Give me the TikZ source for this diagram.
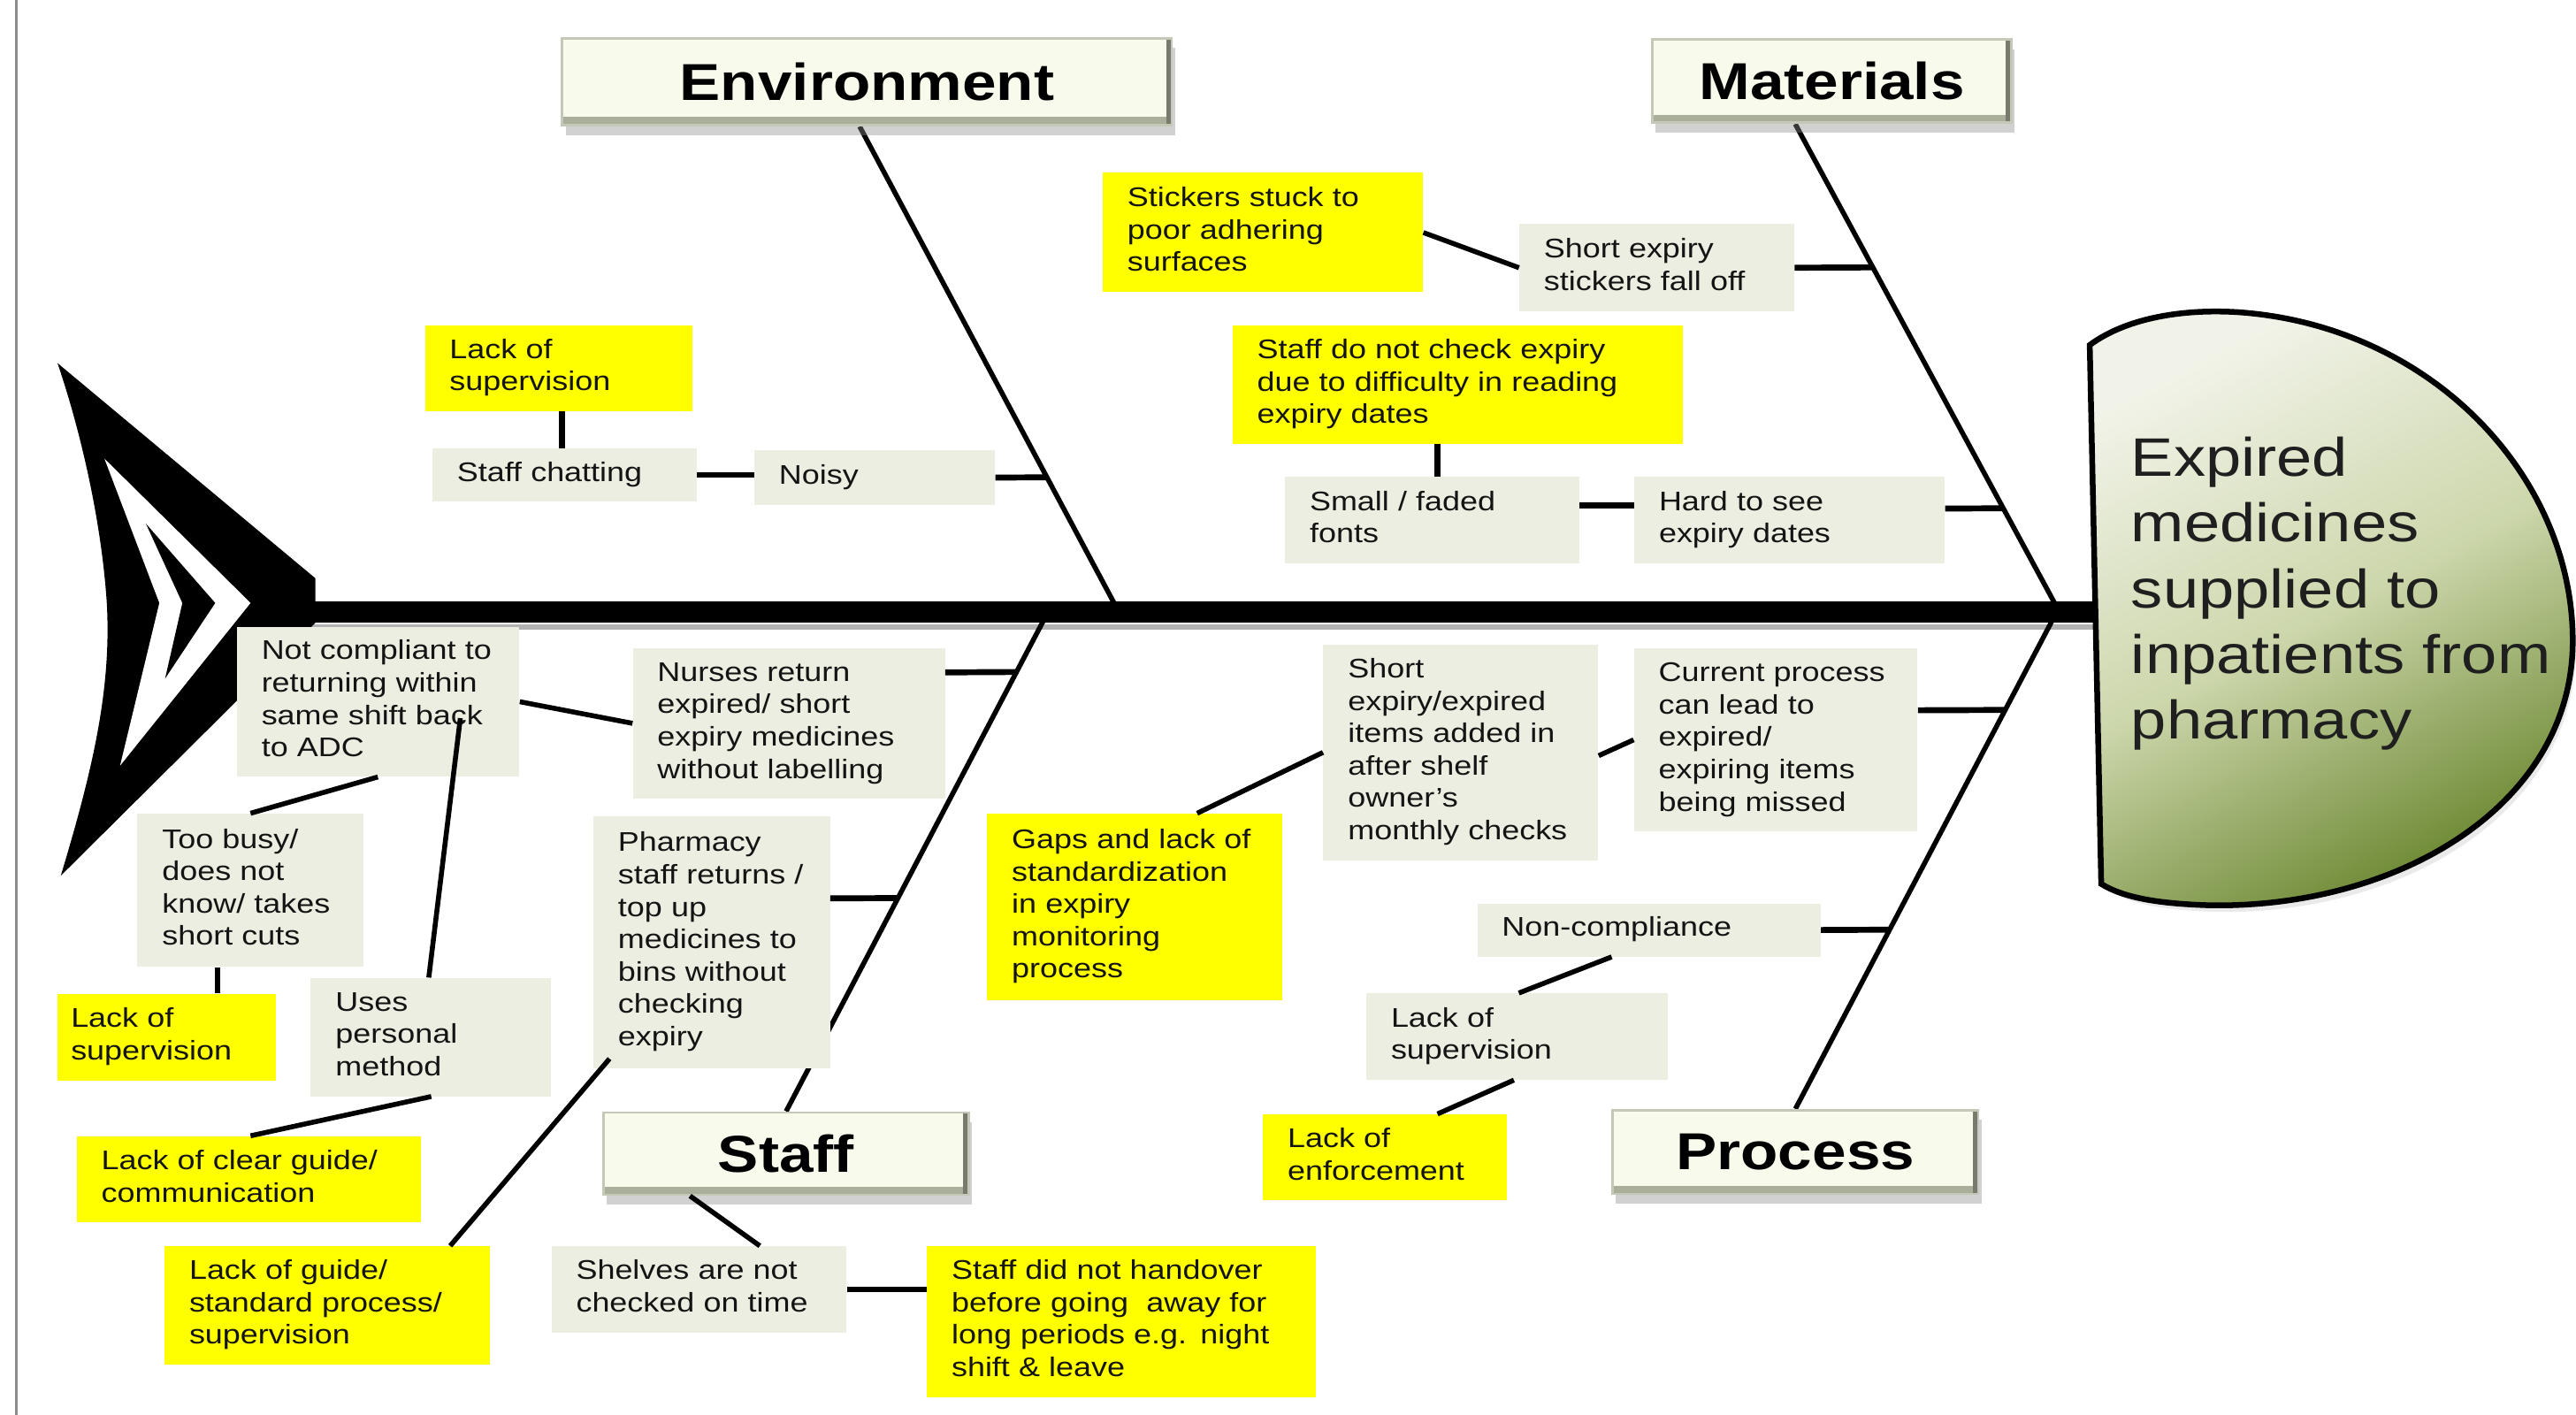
\documentclass[tikz,border=0pt]{standalone}
\usepackage{fontspec}
\setmainfont{Liberation Sans}[FakeStretch=1.18]
\usetikzlibrary{shadows,calc}
\definecolor{ylw}{RGB}{255,255,0}
\definecolor{gbg}{RGB}{235,238,224}
\definecolor{catfill}{RGB}{248,250,236}
\definecolor{catedge}{RGB}{196,200,182}
\definecolor{catbot}{RGB}{170,175,155}
\definecolor{catright}{RGB}{120,122,110}
\definecolor{hlight}{RGB}{241,243,232}
\definecolor{hmid}{RGB}{205,215,172}
\definecolor{hdark}{RGB}{108,136,50}
\definecolor{txt}{RGB}{20,20,20}
\pgfdeclarelayer{bg}
\pgfsetlayers{bg,main}
\newcommand\tl[1]{\begin{tabular}{@{}l@{}}#1\end{tabular}}
\newcommand\bx[7]{\node[#1, minimum width=#5pt, minimum height=#6pt, text width=#5pt-30pt] (#2) at (#3,#4) {\tl{#7}};}
\tikzset{
  basebox/.style={anchor=north west, inner xsep=15pt, inner ysep=0pt, font=\fontsize{16.4}{19.7}\selectfont, text=txt},
  gbox/.style={basebox, fill=gbg},
  ybox/.style={basebox, fill=ylw},
  cat/.style={anchor=north west, inner sep=0pt, fill=catfill, draw=catedge, line width=1.5pt,
    font=\fontsize{31.6}{36}\selectfont\bfseries, text=black,
    drop shadow={shadow xshift=2pt, shadow yshift=-6pt, opacity=.4, fill=black!45},
    path picture={
      \fill[catbot] ([yshift=5pt]path picture bounding box.south west) rectangle (path picture bounding box.south east);
      \fill[catright] ([xshift=-3.5pt]path picture bounding box.south east) rectangle (path picture bounding box.north east);
    }},
  bone/.style={line width=3pt},
  conn/.style={line width=3.6pt},
  dconn/.style={line width=3pt},
}
\begin{document}
\begin{tikzpicture}[x=1pt,y=-1pt]
\useasboundingbox (0,0) rectangle (1568,861);
% ---------------- category boxes
\node[cat, minimum width=371pt, minimum height=53pt] (env) at (341.5,22.5) {Environment};
\node[cat, minimum width=218.6pt, minimum height=50.7pt] (mat) at (1005,23.3) {Materials};
\node[cat, minimum width=222.5pt, minimum height=50pt] (staff) at (366.5,676.4) {Staff};
\node[cat, minimum width=222.6pt, minimum height=51pt] (proc) at (980.8,674.9) {Process};
% ---------------- background layer: page, spine, bones
\begin{pgfonlayer}{bg}
\fill[white] (0,0) rectangle (1568,861);
\draw[black!45, line width=1.5pt] (10,0) coordinate (bl1) -- (10,861) coordinate (bl2);
\coordinate (spa) at (188,372.5);
\coordinate (spb) at (1285,372.5);
\draw[black!30, line width=3pt] ([yshift=-9pt]spa) -- ([yshift=-9pt]spb);
\draw[black, line width=13pt] (spa) -- (spb);
\coordinate (ej) at (679.7,370);
\coordinate (mj) at (1252.2,370);
\coordinate (sj) at (637.1,374);
\coordinate (pj) at (1251.1,374);
\draw[bone] ([xshift=-4.5pt]env.south) -- (ej);
\draw[bone] ([xshift=-22.3pt]mat.south) -- (mj);
\draw[bone] (staff.north) -- (sj);
\draw[bone] (proc.north) -- (pj);
\end{pgfonlayer}
% ---------------- tail
\fill[black] (35,221) -- (192,352) -- (192,379) -- (37,533)
  .. controls (56,470) and (68,420) .. (65,367)
  .. controls (62,320) and (50,265) .. (35,221) -- cycle;
\fill[white] (63.6,279.2) -- (152.5,367) -- (73.1,466) -- (97,367) -- cycle;
\fill[black] (88.8,318.7) -- (131,367) -- (100.5,413) -- (111,367) -- cycle;
% ---------------- head
\fill[black!20, opacity=.4] (1276,214) .. controls (1299,197) and (1334,192) .. (1366,194)
  .. controls (1484,202) and (1568,294) .. (1568,394)
  .. controls (1568,494) and (1464,557) .. (1349,555)
  .. controls (1316,554) and (1296,550) .. (1283,542) -- cycle;
\shadedraw[draw=black, line width=3.5pt, top color=hlight, bottom color=hdark, middle color=hmid, shading angle=28]
  (1272,210) .. controls (1295,193) and (1330,188) .. (1362,190)
  .. controls (1480,198) and (1566,290) .. (1566,390)
  .. controls (1566,490) and (1460,553) .. (1345,551)
  .. controls (1312,550) and (1292,546) .. (1279,538) -- cycle;
\node[anchor=north west, inner sep=0pt, align=left, text=black!88, font=\fontsize{33}{40}\selectfont] (head) at (1297,265.7)
  {Expired\\medicines\\supplied to\\inpatients from\\pharmacy};
% ---------------- Environment
\bx{ybox}{l1}{258.5}{197.7}{163}{52.3}{Lack of\\supervision}
\bx{gbox}{chat}{263}{272.7}{161}{32.3}{Staff chatting}
\bx{gbox}{noisy}{459}{274}{146.5}{33}{Noisy}
% ---------------- Materials
\bx{ybox}{stick}{671}{105}{195}{72.7}{Stickers stuck to\\poor adhering\\surfaces}
\bx{gbox}{short}{924.6}{136}{167.4}{53.5}{Short expiry\\stickers fall off}
\bx{ybox}{sdnc}{750}{197.7}{274}{72.3}{Staff do not check expiry\\due to difficulty in reading\\expiry dates}
\bx{gbox}{small}{782}{290}{179}{52.7}{Small / faded\\fonts}
\bx{gbox}{hard}{994.6}{290}{189}{52.7}{Hard to see\\expiry dates}
% ---------------- Staff
\bx{gbox}{nc}{144}{381.3}{172}{91.2}{Not compliant to\\returning within\\same shift back\\to ADC}
\bx{gbox}{nurses}{385}{394.3}{190}{91.5}{Nurses return\\expired/ short\\expiry medicines\\without labelling}
\bx{gbox}{busy}{83.5}{495}{137.5}{93.4}{Too busy/\\does not\\know/ takes\\short cuts}
\bx{ybox}{ls2}{35}{604.7}{132.5}{52.6}{\hspace*{-7pt}Lack of\\\hspace*{-7pt}supervision}
\bx{gbox}{uses}{189}{595}{146}{72}{Uses\\personal\\method}
\bx{ybox}{lcg}{46.5}{691.3}{209.5}{52.5}{Lack of clear guide/\\communication}
\bx{gbox}{pharm}{361}{496.6}{144}{153.4}{Pharmacy\\staff returns /\\top up\\medicines to\\bins without\\checking\\expiry}
\bx{ybox}{lgd}{100}{758.3}{198}{72}{Lack of guide/\\standard process/\\supervision}
\bx{gbox}{shelves}{335.5}{758.3}{179.5}{52.5}{Shelves are not\\checked on time}
\bx{ybox}{sdn}{564}{758.3}{237}{91.7}{Staff did not handover\\before going \ away for\\long periods e.g. night\\shift \& leave}
% ---------------- Process
\bx{gbox}{sei}{805.3}{392}{167.4}{131.5}{Short\\expiry/expired\\items added in\\after shelf\\owner's\\monthly checks}
\bx{gbox}{cur}{994.4}{394.3}{172.6}{111.6}{Current process\\can lead to\\expired/\\expiring items\\being missed}
\bx{ybox}{gaps}{600.7}{495}{179.8}{113.5}{Gaps and lack of\\standardization\\in expiry\\monitoring\\process}
\bx{gbox}{nonc}{899}{549.7}{209}{32.3}{Non-compliance}
\bx{gbox}{lsp}{831.5}{604.4}{183.5}{52.6}{Lack of\\supervision}
\bx{ybox}{lenf}{768.6}{678}{148.4}{52.5}{Lack of\\enforcement}
% ---------------- bone attachment points
\coordinate (eb1) at (636.9,290.5);
\coordinate (mb1) at (1139.3,162.75);
\coordinate (mb2) at (1219.2,309.35);
\coordinate (sb1) at (618.6,409);
\coordinate (sb2) at (546.0,546.6);
\coordinate (pb1) at (1220.4,432.1);
\coordinate (pb2) at (1149.7,565.85);
% ---------------- connectors: Environment
\draw[conn] ([xshift=83.5pt]l1.south west) -- ([xshift=79pt]chat.north west);
\draw[conn] (chat.east) -- (chat.east -| noisy.west);
\draw[conn] (noisy.east) -- (eb1);
% ---------------- connectors: Materials
\draw[dconn] (stick.east) -- (short.west);
\draw[conn] (short.east) -- (mb1);
\draw[conn] ([xshift=125pt]sdnc.south west) -- ([xshift=93pt]small.north west);
\draw[conn] ([yshift=8.85pt]small.east) -- ([yshift=8.85pt]hard.west);
\draw[conn] ([yshift=7pt]hard.east) -- (mb2);
% ---------------- connectors: Staff
\draw[conn] ([yshift=31pt]nurses.east) -- (sb1);
\draw[dconn] (nc.east) -- (nurses.west);
\draw[dconn] ([xshift=86pt]nc.south west) -- ([xshift=69pt]busy.north west);
\draw[dconn] ([xshift=49pt]busy.south west) -- ([xshift=97.5pt]ls2.north west);
\draw[dconn] ([xshift=50pt,yshift=-10pt]nc.center) -- ([xshift=72pt]uses.north west);
\draw[dconn] ([xshift=73.5pt]uses.south west) -- ([xshift=106pt]lcg.north west);
\draw[conn] ([yshift=26.7pt]pharm.east) -- (sb2);
\draw[dconn] ([xshift=174pt]lgd.north west) -- ([xshift=10pt,yshift=6pt]pharm.south west);
\draw[dconn] ([xshift=53.5pt]staff.south west) -- ([xshift=127pt]shelves.north west);
\draw[conn] (shelves.east) -- (shelves.east -| sdn.west);
% ---------------- connectors: Process
\draw[dconn] ([yshift=-2pt]sei.east) -- (cur.west);
\draw[conn] ([yshift=18pt]cur.east) -- (pb1);
\draw[dconn] ([xshift=128pt]gaps.north west) -- (sei.west);
\draw[conn] (nonc.east) -- (pb2);
\draw[dconn] ([xshift=82pt]nonc.south west) -- ([xshift=93pt]lsp.north west);
\draw[dconn] ([xshift=90pt]lsp.south west) -- ([xshift=106.4pt]lenf.north west);
\end{tikzpicture}
\end{document}
